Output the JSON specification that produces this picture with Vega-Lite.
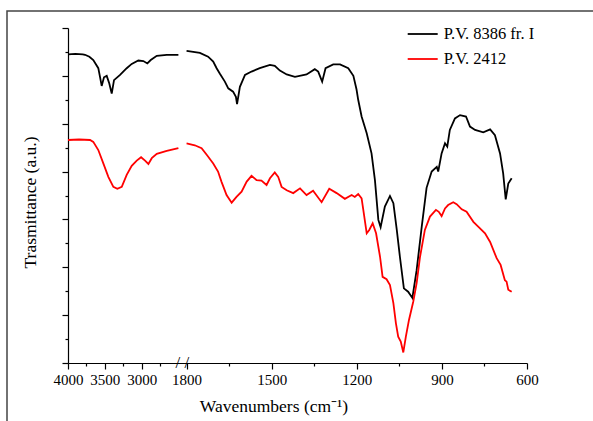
{
  "$schema": "https://vega.github.io/schema/vega-lite/v6.json",
  "width": 590,
  "height": 414,
  "autosize": {"type": "none"},
  "padding": {"left": 7, "top": 11, "right": -4, "bottom": -4},
  "background": "white",
  "config": {
    "view": {"stroke": "#444444", "strokeWidth": 1.5},
    "font": "Liberation Serif",
    "axis": {
      "domainColor": "black", "tickColor": "black", "labelColor": "black", "titleColor": "black",
      "labelFont": "Liberation Serif", "titleFont": "Liberation Serif",
      "labelFontSize": 15, "titleFontSize": 17.5, "titleFontWeight": "normal",
      "grid": false, "domainWidth": 1.2, "tickWidth": 1.2
    }
  },
  "datasets": {
    "spectra": [
      {"s": "P.V. 8386 fr. I", "p": "hi", "w": 4000, "v": 6.45},
      {"s": "P.V. 8386 fr. I", "p": "hi", "w": 3900, "v": 6.46},
      {"s": "P.V. 8386 fr. I", "p": "hi", "w": 3800, "v": 6.45},
      {"s": "P.V. 8386 fr. I", "p": "hi", "w": 3769, "v": 6.44},
      {"s": "P.V. 8386 fr. I", "p": "hi", "w": 3710, "v": 6.40},
      {"s": "P.V. 8386 fr. I", "p": "hi", "w": 3657, "v": 6.33},
      {"s": "P.V. 8386 fr. I", "p": "hi", "w": 3589, "v": 6.16},
      {"s": "P.V. 8386 fr. I", "p": "hi", "w": 3566, "v": 5.98},
      {"s": "P.V. 8386 fr. I", "p": "hi", "w": 3543, "v": 5.79},
      {"s": "P.V. 8386 fr. I", "p": "hi", "w": 3512, "v": 5.97},
      {"s": "P.V. 8386 fr. I", "p": "hi", "w": 3475, "v": 6.00},
      {"s": "P.V. 8386 fr. I", "p": "hi", "w": 3440, "v": 5.84},
      {"s": "P.V. 8386 fr. I", "p": "hi", "w": 3407, "v": 5.63},
      {"s": "P.V. 8386 fr. I", "p": "hi", "w": 3376, "v": 5.91},
      {"s": "P.V. 8386 fr. I", "p": "hi", "w": 3294, "v": 6.02},
      {"s": "P.V. 8386 fr. I", "p": "hi", "w": 3204, "v": 6.16},
      {"s": "P.V. 8386 fr. I", "p": "hi", "w": 3136, "v": 6.25},
      {"s": "P.V. 8386 fr. I", "p": "hi", "w": 3046, "v": 6.32},
      {"s": "P.V. 8386 fr. I", "p": "hi", "w": 2978, "v": 6.31},
      {"s": "P.V. 8386 fr. I", "p": "hi", "w": 2924, "v": 6.26},
      {"s": "P.V. 8386 fr. I", "p": "hi", "w": 2878, "v": 6.33},
      {"s": "P.V. 8386 fr. I", "p": "hi", "w": 2796, "v": 6.42},
      {"s": "P.V. 8386 fr. I", "p": "hi", "w": 2661, "v": 6.44},
      {"s": "P.V. 8386 fr. I", "p": "hi", "w": 2503, "v": 6.44},
      {"s": "P.V. 8386 fr. I", "p": "lo", "w": 1800, "v": 6.52},
      {"s": "P.V. 8386 fr. I", "p": "lo", "w": 1753, "v": 6.48},
      {"s": "P.V. 8386 fr. I", "p": "lo", "w": 1724, "v": 6.40},
      {"s": "P.V. 8386 fr. I", "p": "lo", "w": 1706, "v": 6.30},
      {"s": "P.V. 8386 fr. I", "p": "lo", "w": 1694, "v": 6.16},
      {"s": "P.V. 8386 fr. I", "p": "lo", "w": 1683, "v": 6.05},
      {"s": "P.V. 8386 fr. I", "p": "lo", "w": 1665, "v": 5.88},
      {"s": "P.V. 8386 fr. I", "p": "lo", "w": 1653, "v": 5.74},
      {"s": "P.V. 8386 fr. I", "p": "lo", "w": 1636, "v": 5.67},
      {"s": "P.V. 8386 fr. I", "p": "lo", "w": 1626, "v": 5.56},
      {"s": "P.V. 8386 fr. I", "p": "lo", "w": 1622, "v": 5.41},
      {"s": "P.V. 8386 fr. I", "p": "lo", "w": 1612, "v": 5.77},
      {"s": "P.V. 8386 fr. I", "p": "lo", "w": 1594, "v": 6.02},
      {"s": "P.V. 8386 fr. I", "p": "lo", "w": 1571, "v": 6.09},
      {"s": "P.V. 8386 fr. I", "p": "lo", "w": 1542, "v": 6.16},
      {"s": "P.V. 8386 fr. I", "p": "lo", "w": 1506, "v": 6.23},
      {"s": "P.V. 8386 fr. I", "p": "lo", "w": 1489, "v": 6.21},
      {"s": "P.V. 8386 fr. I", "p": "lo", "w": 1471, "v": 6.11},
      {"s": "P.V. 8386 fr. I", "p": "lo", "w": 1447, "v": 6.03},
      {"s": "P.V. 8386 fr. I", "p": "lo", "w": 1418, "v": 5.98},
      {"s": "P.V. 8386 fr. I", "p": "lo", "w": 1377, "v": 6.03},
      {"s": "P.V. 8386 fr. I", "p": "lo", "w": 1348, "v": 6.14},
      {"s": "P.V. 8386 fr. I", "p": "lo", "w": 1336, "v": 6.09},
      {"s": "P.V. 8386 fr. I", "p": "lo", "w": 1322, "v": 5.88},
      {"s": "P.V. 8386 fr. I", "p": "lo", "w": 1310, "v": 6.16},
      {"s": "P.V. 8386 fr. I", "p": "lo", "w": 1283, "v": 6.24},
      {"s": "P.V. 8386 fr. I", "p": "lo", "w": 1259, "v": 6.24},
      {"s": "P.V. 8386 fr. I", "p": "lo", "w": 1230, "v": 6.16},
      {"s": "P.V. 8386 fr. I", "p": "lo", "w": 1212, "v": 6.00},
      {"s": "P.V. 8386 fr. I", "p": "lo", "w": 1201, "v": 5.72},
      {"s": "P.V. 8386 fr. I", "p": "lo", "w": 1195, "v": 5.50},
      {"s": "P.V. 8386 fr. I", "p": "lo", "w": 1183, "v": 5.15},
      {"s": "P.V. 8386 fr. I", "p": "lo", "w": 1165, "v": 4.80},
      {"s": "P.V. 8386 fr. I", "p": "lo", "w": 1148, "v": 4.38},
      {"s": "P.V. 8386 fr. I", "p": "lo", "w": 1136, "v": 3.82},
      {"s": "P.V. 8386 fr. I", "p": "lo", "w": 1124, "v": 2.99},
      {"s": "P.V. 8386 fr. I", "p": "lo", "w": 1116, "v": 2.84},
      {"s": "P.V. 8386 fr. I", "p": "lo", "w": 1101, "v": 3.27},
      {"s": "P.V. 8386 fr. I", "p": "lo", "w": 1083, "v": 3.49},
      {"s": "P.V. 8386 fr. I", "p": "lo", "w": 1071, "v": 3.34},
      {"s": "P.V. 8386 fr. I", "p": "lo", "w": 1059, "v": 2.78},
      {"s": "P.V. 8386 fr. I", "p": "lo", "w": 1048, "v": 2.22},
      {"s": "P.V. 8386 fr. I", "p": "lo", "w": 1034, "v": 1.56},
      {"s": "P.V. 8386 fr. I", "p": "lo", "w": 1019, "v": 1.49},
      {"s": "P.V. 8386 fr. I", "p": "lo", "w": 1004, "v": 1.36},
      {"s": "P.V. 8386 fr. I", "p": "lo", "w": 989, "v": 1.94},
      {"s": "P.V. 8386 fr. I", "p": "lo", "w": 971, "v": 2.85},
      {"s": "P.V. 8386 fr. I", "p": "lo", "w": 954, "v": 3.66},
      {"s": "P.V. 8386 fr. I", "p": "lo", "w": 936, "v": 4.00},
      {"s": "P.V. 8386 fr. I", "p": "lo", "w": 918, "v": 4.10},
      {"s": "P.V. 8386 fr. I", "p": "lo", "w": 913, "v": 4.00},
      {"s": "P.V. 8386 fr. I", "p": "lo", "w": 901, "v": 4.38},
      {"s": "P.V. 8386 fr. I", "p": "lo", "w": 889, "v": 4.59},
      {"s": "P.V. 8386 fr. I", "p": "lo", "w": 881, "v": 4.52},
      {"s": "P.V. 8386 fr. I", "p": "lo", "w": 872, "v": 4.87},
      {"s": "P.V. 8386 fr. I", "p": "lo", "w": 854, "v": 5.11},
      {"s": "P.V. 8386 fr. I", "p": "lo", "w": 836, "v": 5.18},
      {"s": "P.V. 8386 fr. I", "p": "lo", "w": 815, "v": 5.15},
      {"s": "P.V. 8386 fr. I", "p": "lo", "w": 801, "v": 4.94},
      {"s": "P.V. 8386 fr. I", "p": "lo", "w": 783, "v": 4.87},
      {"s": "P.V. 8386 fr. I", "p": "lo", "w": 754, "v": 4.82},
      {"s": "P.V. 8386 fr. I", "p": "lo", "w": 730, "v": 4.88},
      {"s": "P.V. 8386 fr. I", "p": "lo", "w": 713, "v": 4.76},
      {"s": "P.V. 8386 fr. I", "p": "lo", "w": 695, "v": 4.38},
      {"s": "P.V. 8386 fr. I", "p": "lo", "w": 684, "v": 3.96},
      {"s": "P.V. 8386 fr. I", "p": "lo", "w": 675, "v": 3.42},
      {"s": "P.V. 8386 fr. I", "p": "lo", "w": 666, "v": 3.75},
      {"s": "P.V. 8386 fr. I", "p": "lo", "w": 654, "v": 3.86},
      {"s": "P.V. 2412", "p": "hi", "w": 4000, "v": 4.66},
      {"s": "P.V. 2412", "p": "hi", "w": 3850, "v": 4.67},
      {"s": "P.V. 2412", "p": "hi", "w": 3701, "v": 4.66},
      {"s": "P.V. 2412", "p": "hi", "w": 3657, "v": 4.62},
      {"s": "P.V. 2412", "p": "hi", "w": 3589, "v": 4.45},
      {"s": "P.V. 2412", "p": "hi", "w": 3521, "v": 4.17},
      {"s": "P.V. 2412", "p": "hi", "w": 3453, "v": 3.89},
      {"s": "P.V. 2412", "p": "hi", "w": 3385, "v": 3.68},
      {"s": "P.V. 2412", "p": "hi", "w": 3331, "v": 3.64},
      {"s": "P.V. 2412", "p": "hi", "w": 3271, "v": 3.68},
      {"s": "P.V. 2412", "p": "hi", "w": 3204, "v": 3.93},
      {"s": "P.V. 2412", "p": "hi", "w": 3136, "v": 4.12},
      {"s": "P.V. 2412", "p": "hi", "w": 3068, "v": 4.23},
      {"s": "P.V. 2412", "p": "hi", "w": 3009, "v": 4.30},
      {"s": "P.V. 2412", "p": "hi", "w": 2955, "v": 4.23},
      {"s": "P.V. 2412", "p": "hi", "w": 2910, "v": 4.16},
      {"s": "P.V. 2412", "p": "hi", "w": 2864, "v": 4.28},
      {"s": "P.V. 2412", "p": "hi", "w": 2796, "v": 4.37},
      {"s": "P.V. 2412", "p": "hi", "w": 2661, "v": 4.43},
      {"s": "P.V. 2412", "p": "hi", "w": 2503, "v": 4.49},
      {"s": "P.V. 2412", "p": "lo", "w": 1800, "v": 4.59},
      {"s": "P.V. 2412", "p": "lo", "w": 1771, "v": 4.55},
      {"s": "P.V. 2412", "p": "lo", "w": 1747, "v": 4.49},
      {"s": "P.V. 2412", "p": "lo", "w": 1729, "v": 4.35},
      {"s": "P.V. 2412", "p": "lo", "w": 1706, "v": 4.17},
      {"s": "P.V. 2412", "p": "lo", "w": 1689, "v": 4.00},
      {"s": "P.V. 2412", "p": "lo", "w": 1677, "v": 3.79},
      {"s": "P.V. 2412", "p": "lo", "w": 1659, "v": 3.51},
      {"s": "P.V. 2412", "p": "lo", "w": 1641, "v": 3.35},
      {"s": "P.V. 2412", "p": "lo", "w": 1624, "v": 3.47},
      {"s": "P.V. 2412", "p": "lo", "w": 1606, "v": 3.58},
      {"s": "P.V. 2412", "p": "lo", "w": 1588, "v": 3.79},
      {"s": "P.V. 2412", "p": "lo", "w": 1571, "v": 3.91},
      {"s": "P.V. 2412", "p": "lo", "w": 1553, "v": 3.82},
      {"s": "P.V. 2412", "p": "lo", "w": 1536, "v": 3.81},
      {"s": "P.V. 2412", "p": "lo", "w": 1518, "v": 3.72},
      {"s": "P.V. 2412", "p": "lo", "w": 1506, "v": 3.86},
      {"s": "P.V. 2412", "p": "lo", "w": 1489, "v": 3.98},
      {"s": "P.V. 2412", "p": "lo", "w": 1477, "v": 3.89},
      {"s": "P.V. 2412", "p": "lo", "w": 1465, "v": 3.68},
      {"s": "P.V. 2412", "p": "lo", "w": 1447, "v": 3.61},
      {"s": "P.V. 2412", "p": "lo", "w": 1424, "v": 3.55},
      {"s": "P.V. 2412", "p": "lo", "w": 1400, "v": 3.65},
      {"s": "P.V. 2412", "p": "lo", "w": 1377, "v": 3.51},
      {"s": "P.V. 2412", "p": "lo", "w": 1354, "v": 3.60},
      {"s": "P.V. 2412", "p": "lo", "w": 1324, "v": 3.36},
      {"s": "P.V. 2412", "p": "lo", "w": 1297, "v": 3.64},
      {"s": "P.V. 2412", "p": "lo", "w": 1271, "v": 3.55},
      {"s": "P.V. 2412", "p": "lo", "w": 1242, "v": 3.43},
      {"s": "P.V. 2412", "p": "lo", "w": 1218, "v": 3.51},
      {"s": "P.V. 2412", "p": "lo", "w": 1207, "v": 3.47},
      {"s": "P.V. 2412", "p": "lo", "w": 1195, "v": 3.53},
      {"s": "P.V. 2412", "p": "lo", "w": 1183, "v": 3.44},
      {"s": "P.V. 2412", "p": "lo", "w": 1177, "v": 3.20},
      {"s": "P.V. 2412", "p": "lo", "w": 1165, "v": 2.71},
      {"s": "P.V. 2412", "p": "lo", "w": 1156, "v": 2.78},
      {"s": "P.V. 2412", "p": "lo", "w": 1144, "v": 2.92},
      {"s": "P.V. 2412", "p": "lo", "w": 1132, "v": 2.71},
      {"s": "P.V. 2412", "p": "lo", "w": 1118, "v": 2.22},
      {"s": "P.V. 2412", "p": "lo", "w": 1109, "v": 1.80},
      {"s": "P.V. 2412", "p": "lo", "w": 1095, "v": 1.75},
      {"s": "P.V. 2412", "p": "lo", "w": 1083, "v": 1.63},
      {"s": "P.V. 2412", "p": "lo", "w": 1071, "v": 1.25},
      {"s": "P.V. 2412", "p": "lo", "w": 1062, "v": 0.83},
      {"s": "P.V. 2412", "p": "lo", "w": 1054, "v": 0.55},
      {"s": "P.V. 2412", "p": "lo", "w": 1045, "v": 0.45},
      {"s": "P.V. 2412", "p": "lo", "w": 1036, "v": 0.22},
      {"s": "P.V. 2412", "p": "lo", "w": 1027, "v": 0.55},
      {"s": "P.V. 2412", "p": "lo", "w": 1016, "v": 0.90},
      {"s": "P.V. 2412", "p": "lo", "w": 1001, "v": 1.28},
      {"s": "P.V. 2412", "p": "lo", "w": 989, "v": 1.67},
      {"s": "P.V. 2412", "p": "lo", "w": 977, "v": 2.22},
      {"s": "P.V. 2412", "p": "lo", "w": 960, "v": 2.78},
      {"s": "P.V. 2412", "p": "lo", "w": 942, "v": 3.06},
      {"s": "P.V. 2412", "p": "lo", "w": 921, "v": 3.20},
      {"s": "P.V. 2412", "p": "lo", "w": 911, "v": 3.16},
      {"s": "P.V. 2412", "p": "lo", "w": 901, "v": 3.07},
      {"s": "P.V. 2412", "p": "lo", "w": 889, "v": 3.23},
      {"s": "P.V. 2412", "p": "lo", "w": 878, "v": 3.30},
      {"s": "P.V. 2412", "p": "lo", "w": 860, "v": 3.36},
      {"s": "P.V. 2412", "p": "lo", "w": 848, "v": 3.32},
      {"s": "P.V. 2412", "p": "lo", "w": 830, "v": 3.21},
      {"s": "P.V. 2412", "p": "lo", "w": 813, "v": 3.16},
      {"s": "P.V. 2412", "p": "lo", "w": 789, "v": 2.95},
      {"s": "P.V. 2412", "p": "lo", "w": 772, "v": 2.85},
      {"s": "P.V. 2412", "p": "lo", "w": 748, "v": 2.71},
      {"s": "P.V. 2412", "p": "lo", "w": 730, "v": 2.53},
      {"s": "P.V. 2412", "p": "lo", "w": 707, "v": 2.19},
      {"s": "P.V. 2412", "p": "lo", "w": 693, "v": 2.05},
      {"s": "P.V. 2412", "p": "lo", "w": 678, "v": 1.73},
      {"s": "P.V. 2412", "p": "lo", "w": 672, "v": 1.70},
      {"s": "P.V. 2412", "p": "lo", "w": 666, "v": 1.53},
      {"s": "P.V. 2412", "p": "lo", "w": 654, "v": 1.49}
    ],
    "brk": [
      {"w": 2450, "v": 0, "t": "/ /"}
    ]
  },
  "encoding": {
    "x": {
      "field": "w", "type": "quantitative",
      "scale": {"domain": [4000, 2450, 1815, 600], "range": [61, 175.3, 175.3, 520], "nice": false, "zero": false},
      "axis": {
        "title": "Wavenumbers (cm⁻¹)", "orient": "bottom", "offset": -62,
        "values": [4000, 3750, 3500, 3250, 3000, 2750, 1800, 1650, 1500, 1350, 1200, 1050, 900, 750, 600],
        "format": "d",
        "labelExpr": "indexof([4000,3500,3000,1800,1500,1200,900,600], datum.value) >= 0 ? datum.label : ''",
        "tickSize": {"condition": {"test": "indexof([4000,3500,3000,1800,1500,1200,900,600], datum.value) >= 0", "value": 6}, "value": 3},
        "labelFlush": false, "labelOverlap": false, "labelPadding": 3, "titlePadding": 10,
        "titleX": 266.5, "titleAlign": "center"
      }
    },
    "y": {
      "field": "v", "type": "quantitative",
      "scale": {"domain": [0, 7], "range": [352, 17], "nice": false, "zero": false},
      "axis": {
        "title": "Trasmittance (a.u.)", "offset": -61,
        "values": [0, 0.5, 1, 1.5, 2, 2.5, 3, 3.5, 4, 4.5, 5, 5.5, 6, 6.5, 7],
        "labels": false,
        "tickSize": {"condition": {"test": "datum.value % 1 === 0", "value": 6}, "value": 3},
        "titlePadding": 22, "titleY": 191
      }
    }
  },
  "layer": [
    {
      "data": {"name": "spectra"},
      "mark": {"type": "line", "strokeWidth": 1.8},
      "encoding": {
        "color": {
          "field": "s", "type": "nominal",
          "scale": {"domain": ["P.V. 8386 fr. I", "P.V. 2412"], "range": ["#000000", "#ff0000"]},
          "legend": {
            "title": null, "orient": "none", "legendX": 399.7, "legendY": 7,
            "symbolType": "stroke", "symbolSize": 900, "symbolStrokeWidth": 1.8,
            "labelFont": "Liberation Serif", "labelFontSize": 16.5, "labelColor": "black",
            "rowPadding": 0, "labelOffset": 5, "padding": 0
          }
        },
        "detail": {"field": "p"}
      }
    },
    {
      "data": {"name": "brk"},
      "mark": {"type": "text", "font": "Liberation Serif", "fontSize": 17, "baseline": "middle", "align": "center"},
      "encoding": {"text": {"field": "t"}}
    }
  ]
}
